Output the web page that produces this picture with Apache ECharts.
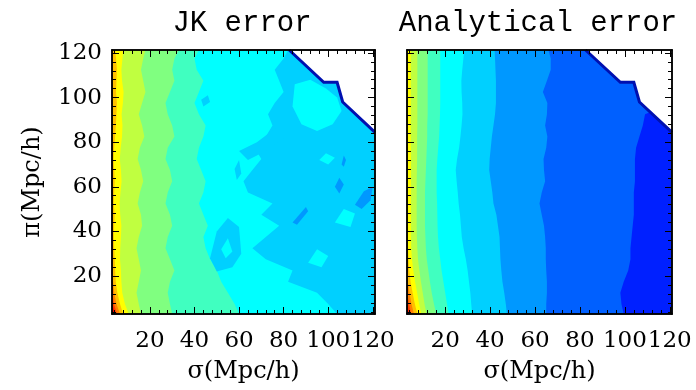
<!DOCTYPE html>
<html>
<head>
<meta charset="utf-8">
<script src="https://cdn.jsdelivr.net/npm/echarts@6/dist/echarts.min.js"></script>
<style>
  html, body { margin: 0; padding: 0; background: #fff; }
  #chart { width: 696px; height: 390px; }
</style>
</head>
<body>
<div id="chart"></div>
<script>
// axis ranges (Mpc/h)
const sigMin = 3, sigMax = 121;
const piMin = 3, piMax = 121.3;
const tickLabels = [20, 40, 60, 80, 100, 120];
const minorTicks = [4, 8, 12, 16, 24, 28, 32, 36, 44, 48, 52, 56, 64, 68, 72, 76, 84, 88, 92, 96, 104, 108, 112, 116];

// contour level colours, lowest to highest
const levelColors = ['#0020ff', '#0060ff', '#0098ff', '#00d0ff', '#00ffff', '#40ffc0', '#80ff80',
  '#c0ff40', '#ffff00', '#ffc000', '#ff8000', '#ff4000', '#ff0000', '#b00000'];

// pi rows at which the contour boundaries were read
const piRows = [3, 7.5, 12.5, 17.5, 22.5, 27.5, 32.5, 37.5, 42.5, 47.5, 52.5, 57.5, 62.5,
  67.5, 72.5, 77.5, 82.5, 87.5, 92.5, 97.5, 102.5, 107.5, 112.5, 117.5, 121.3];

// Analytical error: sigma where level k stops (level k and above lie to the left)
const an1 = [99.5, 98.5, 98, 99.5, 101.5, 102.5, 102.5, 103, 103.5, 104, 104, 104, 104.5, 104.5, 104.5, 105, 106.5, 108, 109, 121, 121, 121, 121, 121, 121];
const an2 = [65, 65, 65.3, 65.3, 65, 64.8, 64.8, 64.5, 64, 63, 62, 63, 64.5, 64, 63.8, 65, 65.5, 64.5, 65.3, 65.5, 63.5, 65.3, 67, 67, 66];
const an3 = [47.5, 47, 46.3, 45.5, 45, 44.6, 44.4, 44.2, 43.5, 42.8, 41.5, 41, 40.3, 39.6, 39.8, 40.3, 40.8, 41.5, 42.2, 42.6, 42.6, 42.6, 42.4, 42.2, 42];
const an4 = [32, 31.6, 31.2, 30.6, 30, 29.2, 28.2, 27.4, 27, 26.6, 26, 25.6, 25.1, 24.7, 25.3, 26.2, 26.8, 27.3, 27.7, 27.6, 27.3, 27.2, 27.6, 28.1, 28.5];
const an5 = [21.5, 20.8, 20, 19.2, 18.4, 17.8, 17.2, 16.8, 16.6, 16.5, 16.4, 16.2, 16.2, 16.2, 16.5, 16.9, 17.3, 17.5, 17.7, 17.8, 17.8, 17.8, 17.8, 17.8, 17.8];
const an6 = [16, 15, 14, 13.2, 12.5, 11.8, 11.4, 11.2, 11, 11, 11, 11, 11.2, 11.4, 11.6, 11.8, 12, 12, 12.2, 12.2, 12.2, 12.2, 12.2, 12.2, 12.2];
const an7 = [11.7, 10.8, 10, 9.2, 8.5, 7.9, 7.6, 7.4, 7.3, 7.3, 7.3, 7.3, 7.3, 7.4, 7.5, 7.5, 7.5, 7.6, 7.6, 7.6, 7.6, 7.6, 7.6, 7.6, 7.6];
const an8 = [9.4, 8.4, 7.5, 6.6, 5.8, 5.2, 4.9, 4.8, 4.8, 4.8, 4.8, 4.8, 4.8, 4.8, 4.8, 4.8, 4.7, 4.7, 4.7, 4.7, 4.7, 4.7, 4.7, 4.7, 4.7];
const an9 = [7.6, 6.5, 5.5, 4.6, 4.0, 3.7, 3.5, 3.4, 3.4, 3.4, 3.4, 3.4, 3.4, 3.4, 3.4, 3.4, 3.4, 3.4, 3.4, 3.4, 3.4, 3.4, 3.4, 3.4, 3.4];
const an10 = [6.1, 5.0, 4.1, 3.4, 3.0];
const an11 = [4.9, 3.9, 3.1];
const an12 = [3.9, 3.1];
const an13 = [3.3];

// JK error: base level is 3 (light blue)
const jk4 = [104, 100, 95, 82, 84, 72, 66, 72, 78, 70, 75, 64, 62, 66, 70, 67, 72, 75, 73, 76, 80, 78, 76, 80, 82];
const jk5 = [60, 58, 55, 52, 50, 47, 45, 44, 46, 44, 42, 44, 45, 43, 41, 42, 44, 45, 42, 40, 42, 44, 41, 40, 42];
const jk6 = [30, 29, 28, 29, 31, 29, 27, 28, 30, 29, 27, 28, 30, 29, 27, 28, 31, 30, 28, 27, 29, 31, 30, 31, 33];
const jk7 = [16, 15, 14, 15, 16, 15, 14, 15, 16.5, 16, 14.5, 15.5, 17, 16, 14.5, 15.5, 17.5, 16.5, 15, 16.5, 18, 17, 16, 17, 18];
const jk8 = [10.5, 8.8, 7.6, 7.2, 7, 6.6, 6.7, 7, 7.2, 6.7, 6.4, 6.8, 7.3, 7, 6.5, 6.9, 7.5, 7.7, 7.3, 7.9, 8.2, 7.5, 7.2, 7.7, 8];
const jk9 = [8, 6.6, 5.4, 4.7, 4.4, 4.2, 4.0, 3.8, 4.0, 4.2, 3.8, 4.0, 4.2, 4.0, 3.7, 4.0, 4.4, 4.7, 5.0, 5.2, 4.8, 5.0, 5.2, 4.8, 4.4];
const jk10 = [6.6, 5.0, 4.0, 3.5, 3.2];
const jk11 = [5.3, 3.9, 3.2];
const jk12 = [4.3, 3.2];
const jk13 = [3.5];

// JK patches (level, outline in sigma, pi)
const jkPatchLevels = [4, 4, 4, 4, 3, 4, 3, 3, 3, 2, 2, 2, 2];
const jkPatchShapes = [
  [[85, 106], [92, 108], [99, 104], [104, 100], [106, 94], [102, 88], [95, 85], [88, 88], [84, 96]],
  [[103, 44], [107, 50], [112, 48], [110, 42]],
  [[91, 26], [95, 32], [100, 29], [97, 24]],
  [[96, 72], [99, 75], [103, 73], [100, 70]],
  [[50, 40], [55, 46], [60, 42], [61, 30], [57, 24], [50, 22], [47, 28]],
  [[52, 32], [55, 37], [57, 31], [54, 28]],
  [[58, 68], [60, 72], [61, 66], [59, 63]],
  [[60, 76], [68, 80], [76, 86], [82, 88], [80, 82], [72, 76], [64, 72]],
  [[43, 99], [46, 101], [47, 98], [44, 96]],
  [[103, 60], [105, 64], [107, 61], [105, 57]],
  [[112, 52], [116, 58], [120, 60], [119, 54], [115, 50]],
  [[84, 44], [90, 51], [91, 49], [86, 43]],
  [[106, 70], [107, 74], [108, 72], [107, 69]]
];

// edge of the region with no data (upper right)
const cutEdge = [[82.5, 121.3], [98, 106.8], [104, 106.8], [106.5, 98], [121, 84.4]];

function leftOf(bounds) {
  const pts = piRows.map((p, i) => [bounds[i] === undefined ? sigMin : bounds[i], p]);
  pts.push([sigMin, piMax], [sigMin, piMin]);
  return pts;
}

function buildLayers(baseLevel, bounds, patchLevels, patchShapes) {
  const layers = [{ color: levelColors[baseLevel], pts: [[sigMin, piMin], [sigMax, piMin], [sigMax, piMax], [sigMin, piMax]] }];
  bounds.forEach((b, k) => layers.push({ color: levelColors[baseLevel + 1 + k], pts: leftOf(b) }));
  patchShapes.forEach((s, i) => layers.push({ color: levelColors[patchLevels[i]], pts: s }));
  layers.push({ color: '#ffffff', pts: cutEdge.concat([[sigMax, piMax]]) });
  layers.push({ color: '#0010b0', pts: cutEdge, line: true });
  return layers;
}

const jkLayers = buildLayers(3, [jk4, jk5, jk6, jk7, jk8, jk9, jk10, jk11, jk12, jk13], jkPatchLevels, jkPatchShapes);
const anLayers = buildLayers(0, [an1, an2, an3, an4, an5, an6, an7, an8, an9, an10, an11, an12, an13], [], []);

function axis(gi, pos, ticks, len, labels, min, max, name) {
  const isX = pos === 'bottom' || pos === 'top';
  return {
    type: 'value', gridIndex: gi, position: pos, offset: 0, min: min, max: max, z: 10,
    axisLine: { show: true, onZero: false, lineStyle: { color: '#000', width: 1.5 } },
    axisTick: { show: true, inside: true, length: len, customValues: ticks, lineStyle: { color: '#000', width: 1 } },
    axisLabel: { show: labels, customValues: tickLabels, fontFamily: 'DejaVu Serif', fontSize: 23, color: '#000', margin: isX ? 16 : 10 },
    splitLine: { show: false },
    name: name, nameLocation: 'middle', nameGap: isX ? 46 : 67, nameRotate: isX ? 0 : 90,
    nameTextStyle: { fontFamily: 'DejaVu Serif', fontSize: 24, color: '#000' }
  };
}

const xAxes = [], yAxes = [];
[0, 1].forEach(gi => {
  ['bottom', 'top'].forEach(pos => {
    xAxes.push(axis(gi, pos, tickLabels, 7, pos === 'bottom', sigMin, sigMax, pos === 'bottom' ? 'σ(Mpc/h)' : ''));
    xAxes.push(axis(gi, pos, minorTicks, 4, false, sigMin, sigMax, ''));
  });
  ['left', 'right'].forEach(pos => {
    const main = pos === 'left' && gi === 0;
    yAxes.push(axis(gi, pos, tickLabels, 7, main, piMin, piMax, main ? 'π(Mpc/h)' : ''));
    yAxes.push(axis(gi, pos, minorTicks, 4, false, piMin, piMax, ''));
  });
});

function panelSeries(gi, layers) {
  return {
    type: 'custom', coordinateSystem: 'cartesian2d', silent: true, z: 2,
    xAxisIndex: gi * 4, yAxisIndex: gi * 4,
    data: layers.map(() => [sigMin, piMin]),
    renderItem: function (params, api) {
      const l = layers[params.dataIndex];
      const pts = l.pts.map(p => api.coord(p));
      if (l.line) {
        return { type: 'polyline', shape: { points: pts }, style: { stroke: l.color, lineWidth: 3, fill: null } };
      }
      return { type: 'polygon', shape: { points: pts }, style: { fill: l.color } };
    }
  };
}

const chart = echarts.init(document.getElementById('chart'));
chart.setOption({
  animation: false,
  backgroundColor: '#fff',
  grid: [
    { left: 112, top: 50, width: 263, height: 264 },
    { left: 407, top: 50, width: 265, height: 264 }
  ],
  xAxis: xAxes,
  yAxis: yAxes,
  graphic: [
    { type: 'text', x: 242, y: 9, style: { text: 'JK error', align: 'center', font: '29px "Liberation Mono"', fill: '#000' } },
    { type: 'text', x: 538, y: 9, style: { text: 'Analytical error', align: 'center', font: '29px "Liberation Mono"', fill: '#000' } }
  ],
  series: [panelSeries(0, jkLayers), panelSeries(1, anLayers)]
});
</script>
</body>
</html>
